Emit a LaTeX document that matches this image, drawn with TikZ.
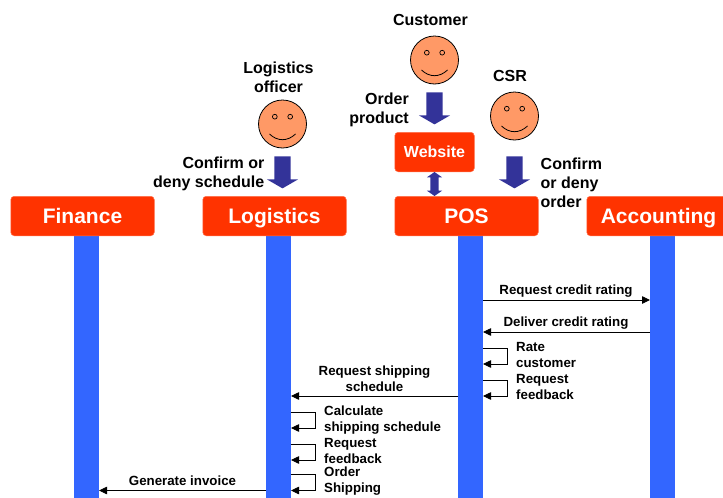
\documentclass[tikz,border=0pt]{standalone}
\usepackage{fontspec}
\setmainfont{Liberation Sans}
\usetikzlibrary{arrows.meta,shapes.arrows}
\definecolor{boxred}{HTML}{FF3300}
\definecolor{barblue}{HTML}{3366FF}
\definecolor{arrowblue}{HTML}{333399}
\definecolor{faceorange}{HTML}{FF9966}
\tikzset{
  lane/.style={fill=boxred,draw=boxred!70!white,line width=0.5pt,rounded corners=3.5pt,minimum width=143.5pt,minimum height=39.5pt,inner sep=0pt,text=white,text height=15pt,text depth=0pt,font=\fontsize{21}{24}\selectfont\bfseries},
  webbox/.style={lane,minimum width=79.5pt,text height=11.5pt,font=\fontsize{16}{19}\selectfont\bfseries},
  lifebar/.style={fill=barblue,draw=none,minimum width=25pt,minimum height=262pt,inner sep=0pt,anchor=north},
  bigarrow/.style={single arrow,fill=arrowblue,draw=none,shape border rotate=270,minimum height=32pt,minimum width=31pt,single arrow head extend=7.5pt,single arrow tip angle=120,inner sep=8pt},
  linkarrow/.style={double arrow,fill=arrowblue,draw=none,shape border rotate=90,minimum height=24pt,minimum width=15pt,double arrow head extend=3.5pt,double arrow tip angle=110,inner sep=4pt},
  head/.style={circle,fill=faceorange,draw=black,line width=0.8pt,minimum size=48pt,inner sep=0pt},
  feature/.style={draw=black,line width=0.7pt},
  big/.style={inner sep=0pt,font=\fontsize{16}{19}\selectfont\bfseries},
  small/.style={inner sep=0pt,font=\fontsize{13.3}{16}\selectfont\bfseries},
  msg/.style={draw=black,line width=0.8pt,-{Triangle[length=8pt,width=7.5pt]}},
}
\newcommand{\smiley}[3]{%
  \node[head] (#1) at (#2,#3) {};
  \draw[feature] (#2-7.7,#3-7.3) circle (2.4pt) (#2+7.7,#3-7.3) circle (2.4pt);
  \draw[feature,line width=0.8pt] (#2-13,#3+10) .. controls (#2-5,#3+17.6) and (#2+5,#3+17.6) .. (#2+13,#3+10);
}
\begin{document}
\begin{tikzpicture}[x=1pt,y=-1pt]
\useasboundingbox (0,0) rectangle (723,498);
\begin{scope}
\clip (0,0) rectangle (723,498);
% lifelines
\node[lifebar] (finbar) at (86.5,236) {};
\node[lifebar] (logbar) at (278.5,236) {};
\node[lifebar] (posbar) at (470.5,236) {};
\node[lifebar] (accbar) at (662.5,236) {};
% lanes
\node[lane] (finance) at (82.5,216) {Finance};
\node[lane] (logistics) at (274.5,216) {Logistics};
\node[lane] (pos) at (466.5,216) {POS};
\node[lane] (accounting) at (658.5,216) {Accounting};
\node[webbox] (website) at (434.5,152) {Website};
\node[linkarrow] (weblink) at (434.5,184) {};
% actors
\smiley{customer}{434.5}{60}
\smiley{csr}{514.5}{116}
\smiley{officer}{282.5}{124}
\node[bigarrow] (custarrow) at (434.5,106) {};
\node[bigarrow] (csrarrow) at (514.5,170) {};
\node[bigarrow] (offarrow) at (282.5,170) {};
% actor labels
\node[big] (lcust) at (430.5,20) {Customer};
\node[big] (lcsr) at (510,75.5) {CSR};
\node[big,align=center] (loff) at (278.5,77.5) {Logistics\\officer};
\node[big,align=right,anchor=east] (lorder) at (409,110) {Order\\product};
\node[big,align=left,anchor=west] (lconf) at (540.5,182.5) {Confirm\\or deny\\order};
\node[big,align=right,anchor=east] (lsched) at (264.5,174) {Confirm or\\deny schedule};
% messages
\coordinate (m1a) at (483,300); \coordinate (m1b) at (650,300);
\coordinate (m2a) at (650,332); \coordinate (m2b) at (483,332);
\coordinate (m3a) at (483,348); \coordinate (m3b) at (483,364); \coordinate (m3c) at (507,348); \coordinate (m3d) at (507,364);
\coordinate (m4a) at (483,380); \coordinate (m4b) at (483,396); \coordinate (m4c) at (507,380); \coordinate (m4d) at (507,396);
\coordinate (m5a) at (458,396); \coordinate (m5b) at (291,396);
\coordinate (m6a) at (291,412); \coordinate (m6b) at (291,428); \coordinate (m6c) at (315,412); \coordinate (m6d) at (315,428);
\coordinate (m7a) at (291,444); \coordinate (m7b) at (291,460); \coordinate (m7c) at (315,444); \coordinate (m7d) at (315,460);
\coordinate (m8a) at (291,474.5); \coordinate (m8b) at (291,490.5); \coordinate (m8c) at (315,474.5); \coordinate (m8d) at (315,490.5);
\coordinate (m9a) at (266,490.5); \coordinate (m9b) at (99,490.5);
\draw[msg] (m1a) -- (m1b);
\draw[msg] (m2a) -- (m2b);
\draw[msg] (m3a) -- (m3c) -- (m3d) -- (m3b);
\draw[msg] (m4a) -- (m4c) -- (m4d) -- (m4b);
\draw[msg] (m5a) -- (m5b);
\draw[msg] (m6a) -- (m6c) -- (m6d) -- (m6b);
\draw[msg] (m7a) -- (m7c) -- (m7d) -- (m7b);
\draw[msg] (m8a) -- (m8c) -- (m8d) -- (m8b);
\draw[msg] (m9a) -- (m9b);
% message labels
\node[small] (t1) at (566,291.5) {Request credit rating};
\node[small] (t2) at (566,323.5) {Deliver credit rating};
\node[small,align=left,anchor=west] (t3) at (516,354.5) {Rate\\customer};
\node[small,align=left,anchor=west] (t4) at (516,386.5) {Request\\feedback};
\node[small,align=center] (t5) at (374.5,378.5) {Request shipping\\schedule};
\node[small,align=left,anchor=west] (t6) at (324,420) {Calculate\\shipping schedule};
\node[small,align=left,anchor=west] (t7) at (324,450.5) {Request\\feedback};
\node[small,align=left,anchor=west] (t8) at (324,481.5) {Order\\Shipping};
\node[small] (t9) at (182.5,481) {Generate invoice};
\end{scope}
\end{tikzpicture}
\end{document}
